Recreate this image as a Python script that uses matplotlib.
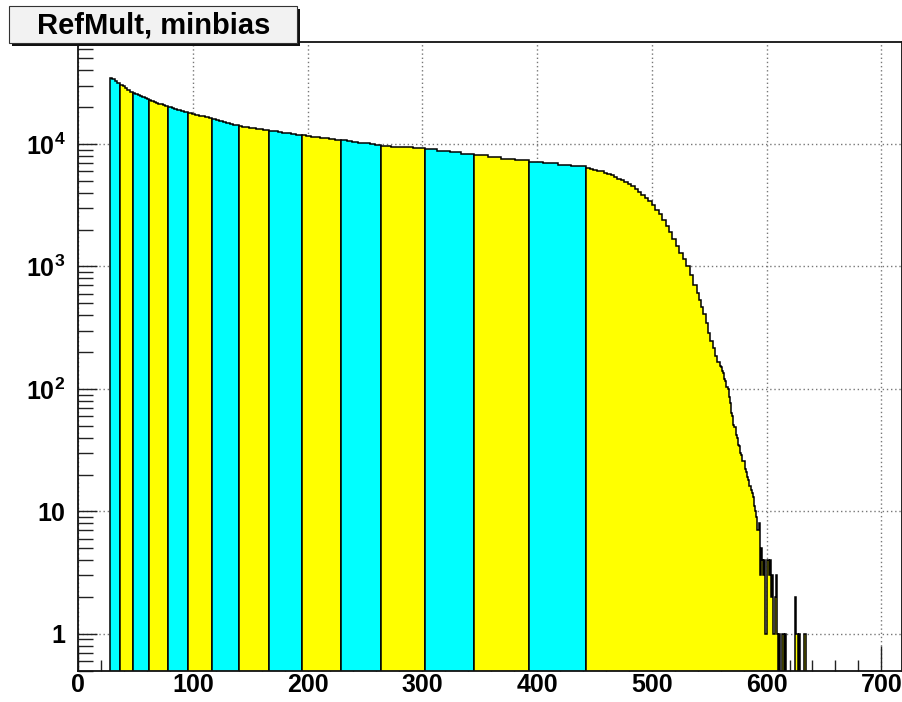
#!/usr/bin/env python3
"""
RefMult distribution (minbias) with centrality classes shaded
"""

import numpy as np
import matplotlib
matplotlib.use('Agg')
import matplotlib.pyplot as plt
from matplotlib.patches import Rectangle

plt.rcParams['font.family'] = ['Liberation Sans', 'DejaVu Sans']
plt.rcParams['font.weight'] = 'bold'
plt.rcParams['mathtext.fontset'] = 'custom'
plt.rcParams['mathtext.rm'] = 'Liberation Sans:bold'
plt.rcParams['mathtext.bf'] = 'Liberation Sans:bold'
plt.rcParams['mathtext.it'] = 'Liberation Sans:bold'

# centrality cut boundaries in RefMult
cut_edges = [28, 37, 48, 62, 78, 96, 117, 140, 166, 195, 229, 264,
             302, 345, 393, 443, 634]
band_colors = ['#00ffff', '#ffff00']

# histogram binning: coarser where the spectrum is flat, unit bins in the tail
coarse_edges = [28, 30, 32, 34, 37,
                39, 41, 43, 45, 48,
                50, 52, 54, 56, 58, 60, 62,
                64, 66, 68, 70, 72, 74, 76, 78,
                80, 82, 84, 86, 88, 90, 92, 94, 96,
                99, 102, 105, 108, 111, 114, 117,
                120, 123, 126, 129, 132, 135, 138, 140,
                143, 146, 149, 152, 155, 158, 161, 164, 166,
                170, 174, 178, 182, 186, 190, 195,
                199, 203, 207, 211, 215, 219, 224, 229,
                234, 239, 244, 249, 254, 259, 264,
                273, 283, 292, 302,
                313, 324, 334, 345,
                357, 369, 381, 393,
                405, 418, 430, 443]
bin_edges = np.concatenate([coarse_edges,
                            np.arange(446, 540, 3),
                            np.arange(541, 560, 2),
                            np.arange(560, 635, 1)])

bin_counts = np.array([
    # 28 - 37
    34670, 33730, 32810, 31700,
    # 37 - 48
    30620, 29650, 28770, 27860, 26790,
    # 48 - 62
    25940, 25470, 25000, 24490, 24040, 23600, 23170,
    # 62 - 78
    22800, 22490, 22130, 21780, 21430, 21090, 20750, 20460,
    # 78 - 96
    20180, 19910, 19630, 19360, 19100, 18840, 18620, 18410, 18200,
    # 96 - 117
    17950, 17660, 17380, 17100, 16830, 16520, 16260,
    # 117 - 140
    16000, 15740, 15450, 15210, 14930, 14690, 14420, 14220,
    # 140 - 166
    14030, 13870, 13740, 13610, 13490, 13370, 13210, 13090, 12970,
    # 166 - 195
    12880, 12710, 12560, 12390, 12250, 12080, 11910,
    # 195 - 229
    11750, 11640, 11510, 11380, 11250, 11120, 10990, 10840,
    # 229 - 264
    10740, 10590, 10420, 10280, 10120, 9980, 9820,
    # 264 - 302
    9680, 9530, 9400, 9250,
    # 302 - 345
    9040, 8790, 8550, 8340,
    # 345 - 393
    8110, 7870, 7620, 7390,
    # 393 - 443
    7180, 6970, 6770, 6580,
    # 443 - 539
    6340, 6240, 6150, 6070, 5970, 5830, 5710, 5560, 5380, 5210,
    5060, 4900, 4740, 4520, 4290, 4060, 3850, 3650, 3450, 3160,
    2900, 2670, 2390, 2140, 1920, 1690, 1480, 1300, 1150, 1010,
    851, 708,
    # 539 - 559
    611, 537, 471, 407, 343, 288, 246, 214, 186, 167,
    # 559 - 634
    155,
    150, 139, 134, 121, 116, 104, 99, 86, 77, 64,
    60, 51, 49, 42, 40, 35, 34, 30, 29, 26,
    26, 22, 21, 19, 18, 16, 15, 14, 13, 11,
    10, 9, 7, 8, 3, 5, 4, 3, 4, 1,
    4, 4, 3, 4, 2, 3, 1, 2, 3, 1,
    0, 1, 0, 1, 1, 0, 1, 0, 0, 0,
    0, 0, 0, 0, 0, 2, 1, 0, 1, 0,
    0, 0, 0, 1,
], dtype=float)

x_ticks = [0, 100, 200, 300, 400, 500, 600, 700]
y_ticks = [1, 10, 100, 1000, 10000]
y_ticklabels = ['1', '10', '$10^{2}$', '$10^{3}$', '$10^{4}$']

fig = plt.figure(figsize=(9.03, 7.02), dpi=100)
ax = fig.add_axes([0.0864, 0.0446, 0.9125, 0.8954])

# empty bins drop below the visible range
floor = 0.05
plot_counts = np.where(bin_counts > 0, bin_counts, floor)

for i in range(len(cut_edges) - 1):
    lo, hi = cut_edges[i], cut_edges[i + 1]
    i0 = int(np.searchsorted(bin_edges, lo))
    i1 = int(np.searchsorted(bin_edges, hi))
    ax.stairs(plot_counts[i0:i1], bin_edges[i0:i1 + 1], baseline=floor,
              fill=True, facecolor=band_colors[i % 2], edgecolor='black',
              linewidth=1.1, zorder=2)

ax.set_yscale('log')
ax.set_xlim(0, 718)
ax.set_ylim(0.5, 68000)

ax.set_xticks(x_ticks)
ax.set_xticks(np.arange(0, 720, 20), minor=True)
ax.set_yticks(y_ticks)
ax.set_yticklabels(y_ticklabels)
ax.yaxis.set_minor_locator(matplotlib.ticker.LogLocator(base=10, subs=np.arange(2, 10)))
ax.yaxis.set_minor_formatter(matplotlib.ticker.NullFormatter())

ax.tick_params(axis='both', which='both', direction='in', color='#222222',
               width=1.0, labelsize=18)
ax.tick_params(axis='x', which='major', length=18, pad=2)
ax.tick_params(axis='x', which='minor', length=8)
ax.tick_params(axis='y', which='major', length=14, pad=9)
ax.tick_params(axis='y', which='minor', length=11)
ax.tick_params(top=False, right=False, which='both')

ax.grid(True, which='major', color='#777777', linestyle=(0, (1, 2)),
        linewidth=1.0, zorder=1)
ax.set_axisbelow(True)

for side in ['left', 'bottom', 'top', 'right']:
    ax.spines[side].set_color('#111111')
    ax.spines[side].set_linewidth(1.3)
    ax.spines[side].set_zorder(3)

# title pave with drop shadow
W, H = 903.0, 702.0
bx, by, bw, bh = 9 / W, 1 - 43 / H, 288 / W, 37 / H
fig.patches.append(Rectangle((bx + 3 / W, by - 3 / H), bw, bh,
                             transform=fig.transFigure, facecolor='#111111',
                             edgecolor='none', zorder=5))
fig.patches.append(Rectangle((bx, by), bw, bh, transform=fig.transFigure,
                             facecolor='#f2f2f2', edgecolor='#333333',
                             linewidth=0.8, zorder=6))
fig.text(bx + bw / 2 + 1 / W, by + bh / 2 - 1 / H, 'RefMult, minbias',
         ha='center', va='center', fontsize=21, fontweight='bold', zorder=7)

plt.savefig('out.png', dpi=100)
